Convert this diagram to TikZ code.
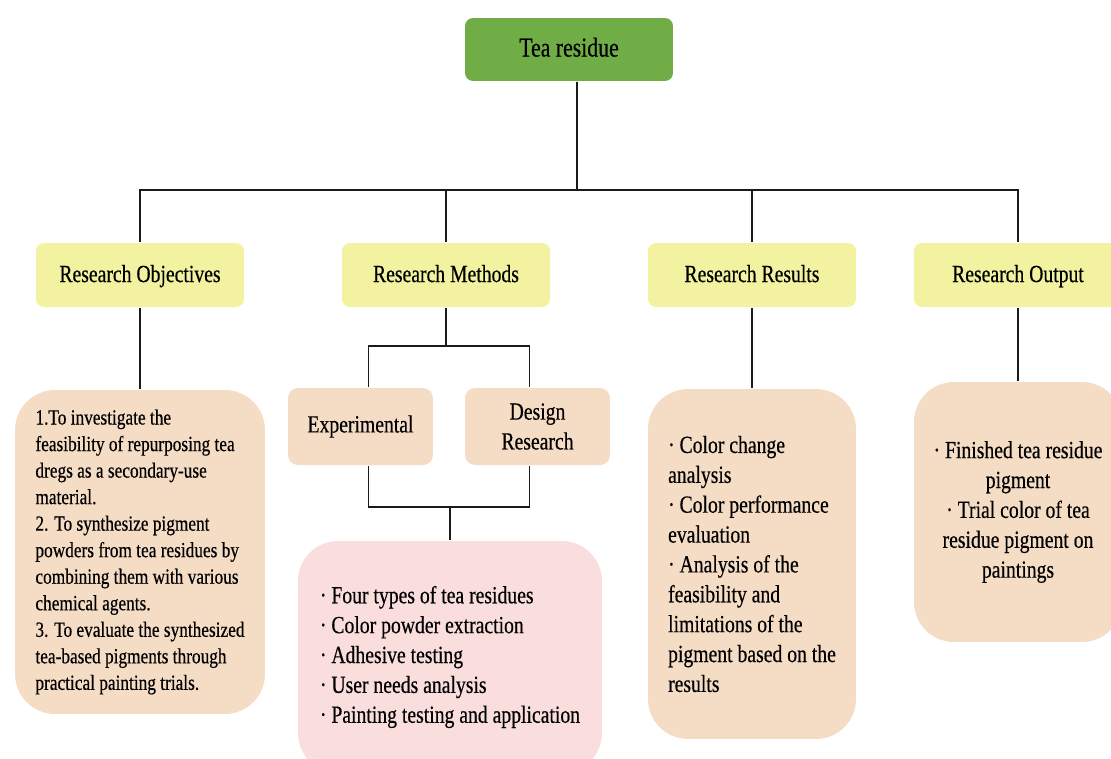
\documentclass[tikz,border=0pt]{standalone}
\usepackage{fontspec}
\setmainfont{Liberation Serif}[FakeStretch=0.8,FakeBold=0.4]
\usepackage{tikz}
\usetikzlibrary{positioning}

\definecolor{teagreen}{HTML}{70AD47}
\definecolor{topicyellow}{HTML}{F2F2A0}
\definecolor{detailpeach}{HTML}{F5DCC5}
\definecolor{detailpink}{HTML}{FADEDE}
\definecolor{linegray}{HTML}{1A1A1A}

\begin{document}
\begin{tikzpicture}[x=0.02cm,y=-0.02cm,line width=1.1pt,draw=linegray]
   \tikzstyle{head}=[fill=teagreen,rounded corners=0.16cm,inner sep=0pt,minimum width=4.16cm,minimum height=1.26cm,text height=1em,text depth=0.2em,font=\fontsize{15.5}{18}\selectfont]
   \tikzstyle{topic}=[fill=topicyellow,rounded corners=0.16cm,inner sep=0pt,minimum width=4.16cm,minimum height=1.28cm,text height=1em,text depth=0.2em,font=\fontsize{14}{17}\selectfont]
   \tikzstyle{detail}=[fill=detailpeach,rounded corners=0.8cm,inner sep=0pt,font=\fontsize{14}{17}\selectfont]
   \tikzstyle{method}=[detail,rounded corners=0.2cm,minimum width=2.9cm,minimum height=1.54cm,align=center]

   \useasboundingbox (0,0) rectangle (1111,758);

   \node[head]  (A) at (569,49.5) {Tea residue};
   \node[topic] (B) at (140,275)  {Research Objectives};
   \node[topic] (C) at (446,275)  {Research Methods};
   \node[topic] (D) at (752,275)  {Research Results};
   \node[topic] (E) at (1018,275) {Research Output};

   \node[detail,minimum width=5cm,minimum height=6.48cm,align=left,
         font=\fontsize{12.3}{15.1}\selectfont] (F) at (140,552)
        {1.To investigate the\\feasibility of repurposing tea\\dregs as a secondary-use\\material.\\
         2. To synthesize pigment\\powders from tea residues by\\combining them with various\\chemical agents.\\
         3. To evaluate the synthesized\\tea-based pigments through\\practical painting trials.};
   \node[method] (G) at (360.5,426.5) {Experimental};
   \node[method] (H) at (537.5,426.5) {Design\\Research};
   \node[detail,fill=detailpink,minimum width=6.08cm,minimum height=4.64cm,align=left] (I) at (450,657)
        {· Four types of tea residues\\· Color powder extraction\\· Adhesive testing\\· User needs analysis\\· Painting testing and application};
   \node[detail,minimum width=4.16cm,minimum height=7cm,align=left] (J) at (752,564)
        {· Color change\\analysis\\· Color performance\\evaluation\\· Analysis of the\\feasibility and\\limitations of the\\pigment based on the\\results};
   \node[detail,minimum width=4.16cm,minimum height=5.2cm,align=center] (K) at (1018,512)
        {· Finished tea residue\\pigment\\· Trial color of tea\\residue pigment on\\paintings};

   \coordinate (hub)   at (577,190);
   \coordinate (split) at (446,346);
   \coordinate (merge) at (450,507);

   \draw ([xshift=0.16cm]A.south) -- (hub);
   \draw (B) |- (hub) -| (E);
   \draw (C) -- (C |- hub);
   \draw (D) -- (D |- hub);

   \path[draw] (B) edge (F)
               (D) edge (J)
               (E) edge (K);

   \draw (C) -- (split);
   \draw ([xshift=0.16cm]G.north) |- (split) -| ([xshift=-0.16cm]H.north);
   \draw ([xshift=0.16cm]G.south) |- (merge) -| ([xshift=-0.16cm]H.south);
   \draw (merge) -- (I);
\end{tikzpicture}
\end{document}
